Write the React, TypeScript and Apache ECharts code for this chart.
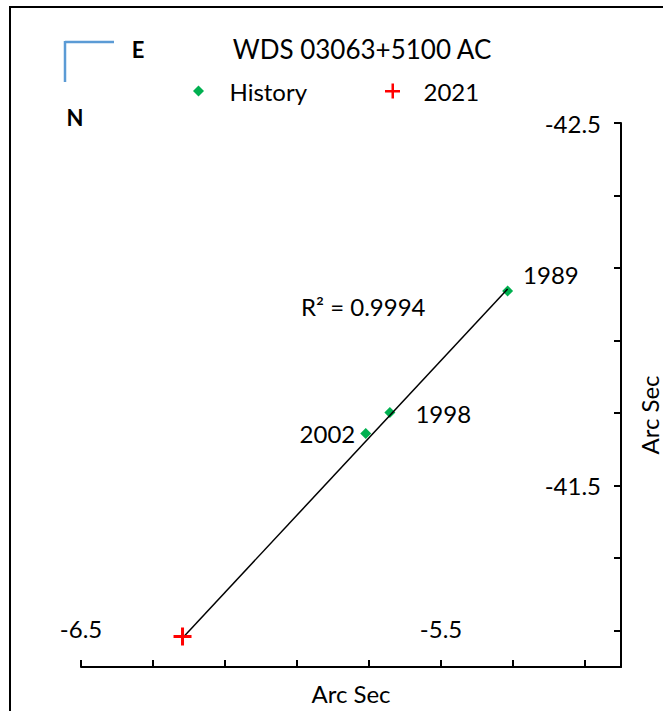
import React, { useEffect, useRef } from 'react';
import * as echarts from 'echarts';

// ---- data ----
const chartTitle = 'WDS 03063+5100 AC';
const axisTitle = 'Arc Sec';
const historyName = 'History';
const historyYears = ['1989', '1998', '2002'];
const historyX = [-5.315, -5.642, -5.709];
const historyY = [-42.037, -41.702, -41.644];
const currentName = '2021';
const currentX = [-6.218];
const currentY = [-41.084];
const trendX = [-6.218, -5.315];
const trendY = [-41.08, -42.042];
const rSquaredText = 'R² = 0.9994';
const xTickLabels = [-6.5, -5.5];
const yTickLabels = [-42.5, -41.5];

const FONT = 'Lato';
const TEXT = '#000';
const GREEN = '#00b050';
const RED = '#ff0000';
const PLUS = 'path://M0,7.5L18,7.5L18,10.5L0,10.5ZM7.5,0L10.5,0L10.5,18L7.5,18Z';
const DIAMOND = 'path://M5,0L10,5L5,10L0,5Z';

const labelPlacement: Record<string, any> = {
  '1989': { position: 'right', distance: 10, offset: [0, -16] },
  '1998': { position: 'right', distance: 20, offset: [0, 1] },
  '2002': { position: 'left', distance: 5, offset: [0, 0] },
};

const fmt = (ticks: number[]) => (v: number) =>
  ticks.some((t) => Math.abs(t - v) < 1e-6) ? v.toFixed(1) : '';

export default function App() {
  const ref = useRef<HTMLDivElement>(null);
  useEffect(() => {
    if (!ref.current) return;
    const chart = echarts.init(ref.current, null, { renderer: 'svg' });
    const textStyle = { fontFamily: FONT, fontSize: 24, color: TEXT };
    chart.setOption({
      animation: false,
      backgroundColor: '#fff',
      title: {
        text: chartTitle,
        left: 362,
        top: 36,
        padding: 0,
        textAlign: 'center',
        textStyle: { fontFamily: FONT, fontSize: 26, fontWeight: 'normal', color: TEXT },
      },
      legend: [
        {
          data: [{ name: historyName, icon: DIAMOND }],
          left: 193,
          top: 79,
          padding: 0,
          itemWidth: 52,
          itemHeight: 11,
          symbolKeepAspect: true,
          textStyle,
          selectedMode: false,
        },
        {
          data: [{ name: currentName, icon: 'path://M0,6.5L15,6.5L15,9L0,9ZM6.5,0L9,0L9,15L6.5,15Z' }],
          left: 385,
          top: 79,
          padding: 0,
          itemWidth: 52,
          itemHeight: 15,
          symbolKeepAspect: true,
          textStyle,
          selectedMode: false,
        },
      ],
      grid: { left: 81, top: 123, width: 540, height: 544, containLabel: false, outerBoundsMode: 'none' },
      xAxis: {
        type: 'value',
        min: -6.5,
        max: -5.0,
        interval: 0.2,
        position: 'bottom',
        axisLine: { show: true, onZero: false, lineStyle: { color: '#000', width: 2 } },
        axisTick: { show: true, inside: true, length: 7, lineStyle: { color: '#000', width: 2 } },
        axisLabel: { inside: true, margin: 27, formatter: fmt(xTickLabels), ...textStyle },
        splitLine: { show: false },
        name: axisTitle,
        nameLocation: 'middle',
        nameGap: 14,
        nameTextStyle: textStyle,
      },
      yAxis: {
        type: 'value',
        min: -42.5,
        max: -41.0,
        interval: 0.2,
        inverse: true,
        position: 'right',
        axisLine: { show: true, onZero: false, lineStyle: { color: '#000', width: 2 } },
        axisTick: { show: true, inside: true, length: 7, lineStyle: { color: '#000', width: 2 } },
        axisLabel: { inside: true, margin: 20, formatter: fmt(yTickLabels), ...textStyle },
        splitLine: { show: false },
      },
      graphic: [
        {
          type: 'rect',
          shape: { x: 10, y: 7, width: 700, height: 760 },
          style: { fill: 'none', stroke: '#000', lineWidth: 2 },
          silent: true,
        },
        {
          type: 'line',
          shape: { x1: 65, y1: 42, x2: 114, y2: 42 },
          style: { stroke: '#5b9bd5', lineWidth: 2.5 },
        },
        {
          type: 'line',
          shape: { x1: 65, y1: 41, x2: 65, y2: 82 },
          style: { stroke: '#5b9bd5', lineWidth: 2.5 },
        },
        {
          type: 'text',
          x: 138,
          y: 49,
          style: { text: 'E', font: `bold 22px ${FONT}`, fill: TEXT, align: 'center', verticalAlign: 'middle' },
        },
        {
          type: 'text',
          x: 75,
          y: 117,
          style: { text: 'N', font: `bold 22px ${FONT}`, fill: TEXT, align: 'center', verticalAlign: 'middle' },
        },
        {
          type: 'text',
          x: 301,
          y: 306,
          style: { text: rSquaredText, font: `24px ${FONT}`, fill: TEXT, align: 'left', verticalAlign: 'middle' },
        },
        {
          type: 'text',
          x: 649,
          y: 415,
          rotation: Math.PI / 2,
          style: { text: axisTitle, font: `24px ${FONT}`, fill: TEXT, align: 'center', verticalAlign: 'middle' },
        },
      ],
      series: [
        {
          type: 'line',
          data: trendX.map((x, i) => [x, trendY[i]]),
          symbol: 'none',
          lineStyle: { color: '#000', width: 1.5 },
          z: 4,
          silent: true,
        },
        {
          type: 'scatter',
          name: historyName,
          symbol: 'diamond',
          symbolSize: 11,
          itemStyle: { color: GREEN, opacity: 1 },
          z: 3,
          label: { show: true, formatter: '{b}', ...textStyle },
          data: historyX.map((x, i) => ({
            name: historyYears[i],
            value: [x, historyY[i]],
            label: { ...labelPlacement[historyYears[i]], color: TEXT },
          })),
        },
        {
          type: 'scatter',
          name: currentName,
          symbol: PLUS,
          symbolSize: 18,
          itemStyle: { color: RED, opacity: 1 },
          z: 5,
          data: currentX.map((x, i) => [x, currentY[i]]),
        },
      ],
    });
    return () => chart.dispose();
  }, []);
  return (
    <div
      ref={ref}
      style={{ position: 'fixed', left: 0, top: 0, width: 663, height: 711, background: '#fff' }}
    />
  );
}
